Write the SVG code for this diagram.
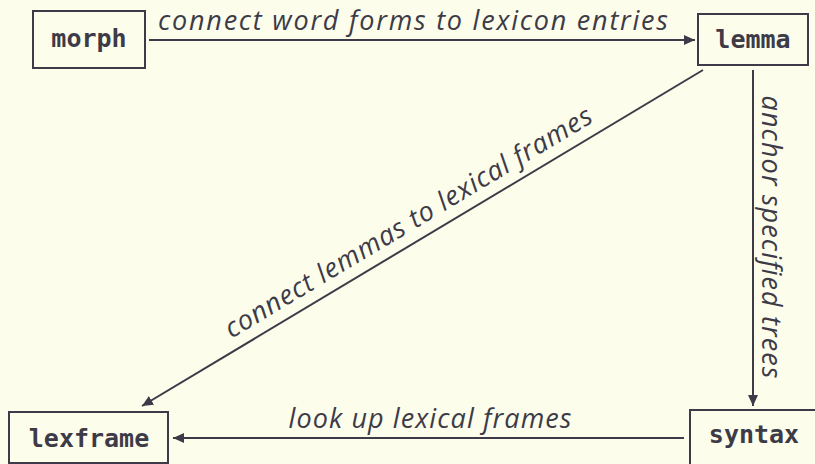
<svg xmlns="http://www.w3.org/2000/svg" width="815" height="464" viewBox="0 0 815 464">
<style>
.bg{fill:#fdfdec}
.box{fill:#fdfdec;stroke:#3c3b47;stroke-width:2}
.nl{font-family:"DejaVu Sans Mono","Liberation Mono",monospace;font-weight:bold;font-size:25px;fill:#3c3b47;text-anchor:middle}
.el{font-family:"Open Sans","Noto Sans",sans-serif;font-style:italic;font-size:27px;fill:#3c3b47;text-anchor:middle}
.edge{stroke:#3c3b47;stroke-width:2;fill:none;marker-end:url(#ah)}
</style>
<defs>
<marker id="ah" markerUnits="userSpaceOnUse" markerWidth="12" markerHeight="10" refX="11" refY="5" orient="auto">
<path d="M0,0 L11,5 L0,10 Z" fill="#3c3b47"/>
</marker>
</defs>
<rect class="bg" x="0" y="0" width="815" height="464"/>
<g id="connectors">
<line class="edge" x1="149" y1="40" x2="695" y2="40"/>
<line class="edge" x1="753" y1="70" x2="753" y2="406"/>
<line class="edge" x1="703" y1="70" x2="142" y2="406"/>
<line class="edge" x1="684" y1="438" x2="173" y2="438"/>
<text class="el" x="413" y="30" textLength="510" lengthAdjust="spacing">connect word forms to lexicon entries</text>
<text class="el" transform="translate(762 237) rotate(90)" x="0" y="0" textLength="283" lengthAdjust="spacing">anchor specified trees</text>
<text class="el" transform="translate(413 230) rotate(-30.92)" x="0" y="0" textLength="423" lengthAdjust="spacing">connect lemmas to lexical frames</text>
<text class="el" x="430" y="428" textLength="283" lengthAdjust="spacing">look up lexical frames</text>
</g>
<g id="morph"><rect class="box" x="33" y="11" width="112" height="57"/><text class="nl" x="89" y="47">morph</text></g>
<g id="lemma"><rect class="box" x="698" y="14" width="110" height="51"/><text class="nl" x="753" y="48">lemma</text></g>
<g id="lexframe"><rect class="box" x="9" y="412" width="159" height="51"/><text class="nl" x="89" y="447">lexframe</text></g>
<g id="syntax"><rect class="box" x="690" y="410" width="128" height="56"/><text class="nl" x="754" y="443">syntax</text></g>
</svg>
